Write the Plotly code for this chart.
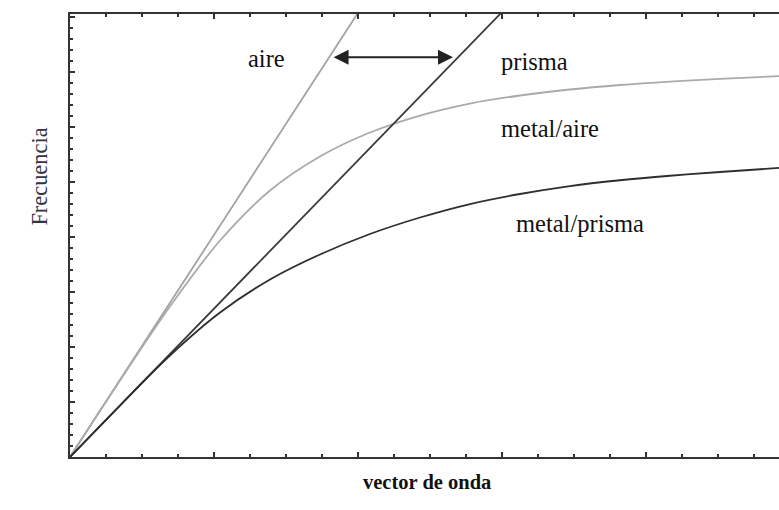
import plotly.graph_objects as go

# ---- data ----
aire_x = [0.0, 2.1]
aire_y = [0.0, 8.48]

prisma_x = [0.0, 3.1]
prisma_y = [0.0, 8.36]

curve_x = [0.0, 0.347, 0.694, 1.042, 1.389, 1.736, 2.083, 2.431, 2.778, 3.125,
           3.472, 3.819, 4.167, 4.514, 4.924]
metal_aire_y = [0.0, 1.391, 2.736, 3.936, 4.845, 5.464, 5.900, 6.209, 6.427, 6.573,
                6.682, 6.764, 6.827, 6.877, 6.925]
metal_prisma_y = [0.0, 0.936, 1.845, 2.627, 3.227, 3.682, 4.055, 4.355, 4.600, 4.782,
                  4.927, 5.032, 5.114, 5.182, 5.256]

labels = ["aire", "prisma", "metal/aire", "metal/prisma"]
label_x = [1.368, 3.226, 3.333, 3.542]
label_y = [7.25, 7.19, 5.97, 4.24]

arrow_y = 7.27
arrow_x0 = 1.82
arrow_x1 = 2.66

x_title = "vector de onda"
y_title = "Frecuencia"

X_MAX = 4.924
Y_MAX = 8.055

fig = go.Figure()
fig.add_trace(go.Scatter(x=aire_x, y=aire_y, mode="lines",
                         line=dict(color="#a2a2a2", width=1.8), hoverinfo="skip"))
fig.add_trace(go.Scatter(x=curve_x, y=metal_aire_y, mode="lines", line_shape="spline",
                         line=dict(color="#aaaaaa", width=1.8, smoothing=1.0), hoverinfo="skip"))
fig.add_trace(go.Scatter(x=prisma_x, y=prisma_y, mode="lines",
                         line=dict(color="#3c3c3c", width=1.8), hoverinfo="skip"))
fig.add_trace(go.Scatter(x=curve_x, y=metal_prisma_y, mode="lines", line_shape="spline",
                         line=dict(color="#2e2e2e", width=1.8, smoothing=1.0), hoverinfo="skip"))

serif = "Liberation Serif, Times New Roman, serif"

for t, lx, ly in zip(labels, label_x, label_y):
    fig.add_annotation(x=lx, y=ly, xref="x", yref="y", text=t, showarrow=False,
                       font=dict(family=serif, size=24.5, color="#111111"))

# double-headed arrow
fig.add_annotation(x=arrow_x1, y=arrow_y, ax=arrow_x0, ay=arrow_y,
                   xref="x", yref="y", axref="x", ayref="y", text="",
                   showarrow=True, arrowhead=2, startarrowhead=2, arrowside="end+start",
                   arrowsize=1.5, startarrowsize=1.5, arrowwidth=2, arrowcolor="#222222")

fig.add_annotation(x=0.5035, y=-0.086, xref="paper", yref="paper", text="<b>" + x_title + "</b>",
                   showarrow=False, font=dict(family=serif, size=20.5, color="#111111"))
fig.add_annotation(x=-0.0635, y=0.634, xref="paper", yref="paper", text=y_title,
                   textangle=-90, showarrow=False,
                   font=dict(family=serif, size=22.4, color="#333344"))

axis_col = "#333333"
fig.update_xaxes(range=[0, X_MAX], showgrid=False, zeroline=False, showticklabels=False,
                 showline=True, linecolor=axis_col, linewidth=2, mirror="ticks",
                 ticks="inside", dtick=1, tick0=0, ticklen=5, tickwidth=1.5, tickcolor=axis_col,
                 minor=dict(ticks="inside", dtick=0.25, ticklen=3, tickwidth=1.5,
                            tickcolor=axis_col, showgrid=False))
fig.update_yaxes(range=[0, Y_MAX], showgrid=False, zeroline=False, showticklabels=False,
                 showline=True, linecolor=axis_col, linewidth=2, mirror=False,
                 ticks="inside", dtick=1, tick0=0, ticklen=5, tickwidth=1.5, tickcolor=axis_col,
                 minor=dict(ticks="inside", dtick=0.2, ticklen=3, tickwidth=1.5,
                            tickcolor=axis_col, showgrid=False))

fig.update_layout(width=779, height=510, margin=dict(l=70, r=0, t=14, b=53),
                  paper_bgcolor="white", plot_bgcolor="white", showlegend=False)

fig.write_html("out.html")
